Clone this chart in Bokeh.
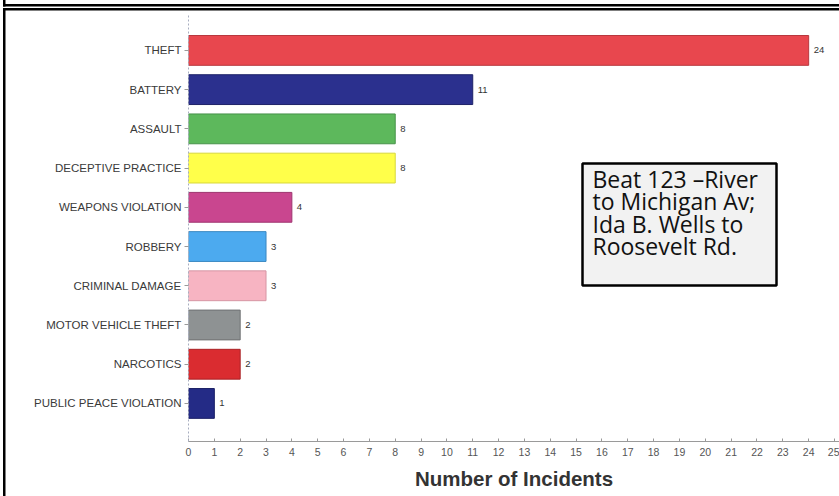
from bokeh.plotting import figure
from bokeh.layouts import column
from bokeh.models import (ColumnDataSource, Range1d, BoxAnnotation, Label, FixedTicker,
                          InlineStyleSheet)
from bokeh.core.properties import value
from bokeh.embed import file_html
from bokeh.resources import INLINE

# Incident counts by offense type (top to bottom)
categories = ["THEFT", "BATTERY", "ASSAULT", "DECEPTIVE PRACTICE", "WEAPONS VIOLATION",
              "ROBBERY", "CRIMINAL DAMAGE", "MOTOR VEHICLE THEFT", "NARCOTICS",
              "PUBLIC PEACE VIOLATION"]
incidents = [24, 11, 8, 8, 4, 3, 3, 2, 2, 1]
bar_colors = ["#E8474E", "#2B308E", "#5DB85C", "#FFFF4A", "#C9468F",
              "#4CAAEF", "#F7B4C2", "#8E9293", "#DA2C30", "#242B86"]
bar_edges = ["#B8383E", "#1E2268", "#47924A", "#D8D83A", "#9E3570",
             "#3A88C2", "#D696A4", "#6E7172", "#AA2225", "#1A1F66"]
x_ticks = list(range(0, 26))
caption = ["Beat 123 \u2013River", "to Michigan Av;", "Ida B. Wells to", "Roosevelt Rd."]

W, H = 839, 496
LEFT, TOP, BOTTOM = 188, 15, 441
PX_PER_UNIT = 25.84          # horizontal scale of the incident axis
X_END = (W - LEFT) / PX_PER_UNIT   # frame runs to the right page edge

# category slots: first category on top
slots = list(range(len(categories), 0, -1))

src = ColumnDataSource(dict(y=slots, n=incidents, color=bar_colors,
                            edge=bar_edges, lbl=[str(v) for v in incidents]))

p = figure(width=W, height=H, output_backend="svg", toolbar_location=None,
           x_range=Range1d(0, X_END), y_range=Range1d(0.03, 10.89),
           min_border_left=LEFT, min_border_right=0,
           min_border_top=TOP, min_border_bottom=H - BOTTOM)
# pixel-aligned helper ranges for the caption box
p.extra_x_ranges = {"px": Range1d(LEFT, W)}
p.extra_y_ranges = {"py": Range1d(BOTTOM, TOP)}

p.background_fill_color = "white"
p.border_fill_color = None
p.outline_line_color = None
p.grid.grid_line_color = None

p.hbar(y="y", right="n", left=0, height=0.76, source=src,
       fill_color="color", line_color="edge", line_width=1)

p.text(x="n", y="y", text="lbl", source=src, x_offset=5,
       text_baseline="middle", text_align="left",
       text_font=value("Liberation Sans"), text_font_size="9.5px", text_color="#333333")

# x axis
xa = p.xaxis[0]
xa.ticker = FixedTicker(ticks=x_ticks)
xa.minor_tick_line_color = None
xa.major_tick_in = 3
xa.major_tick_out = 0
xa.major_tick_line_color = "#9a9a9a"
xa.axis_line_color = "#9a9a9a"
xa.major_label_text_font = "Liberation Sans"
xa.major_label_text_font_size = "10.5px"
xa.major_label_text_color = "#555555"
xa.major_label_standoff = 6
xa.axis_label = "Number of Incidents"
xa.axis_label_text_font = "Liberation Sans"
xa.axis_label_text_font_style = "bold"
xa.axis_label_text_font_size = "20.5px"
xa.axis_label_text_color = "#333333"
xa.axis_label_standoff = 8

# y axis with category names as tick labels
ya = p.yaxis[0]
ya.ticker = FixedTicker(ticks=slots)
ya.major_label_overrides = {s: c for s, c in zip(slots, categories)}
ya.axis_line_color = "#a8aec0"
ya.axis_line_dash = "2 2"
ya.major_tick_in = 0
ya.major_tick_out = 4
ya.major_tick_line_color = "#9a9a9a"
ya.minor_tick_line_color = None
ya.major_label_text_font = "Liberation Sans"
ya.major_label_text_font_size = "11.5px"
ya.major_label_text_color = "#3a3a3a"
ya.major_label_standoff = 3

# caption box
p.add_layout(BoxAnnotation(left=582, right=776, top=163, bottom=285,
                           x_range_name="px", y_range_name="py",
                           fill_color="#F2F2F2", fill_alpha=1,
                           line_color="black", line_alpha=1, line_width=2.5))
for i, line in enumerate(caption):
    p.add_layout(Label(x=592, y=178 + 22.5 * i, text=line,
                       x_range_name="px", y_range_name="py",
                       text_font="Open Sans", text_font_size="23px",
                       text_color="#111111", text_baseline="alphabetic"))

# page frame rules painted on the wrapping container, behind the plot's transparent border
rule = "linear-gradient(#000, #000)"
layers = ", ".join([
    f"{rule} 3px 4px / {W - 3}px 2.5px no-repeat",
    f"{rule} 3px 0px / 2.5px 6.5px no-repeat",
    f"{rule} 3px 8px / {W - 3}px 2.5px no-repeat",
    f"{rule} 3px 8px / 2.5px {H - 8}px no-repeat",
    "#ffffff",
])
page = column(p, width=W, height=H,
              stylesheets=[InlineStyleSheet(css=f":host {{ background: {layers}; overflow: hidden; }}")])

open("out.html", "w").write(file_html(page, INLINE))
